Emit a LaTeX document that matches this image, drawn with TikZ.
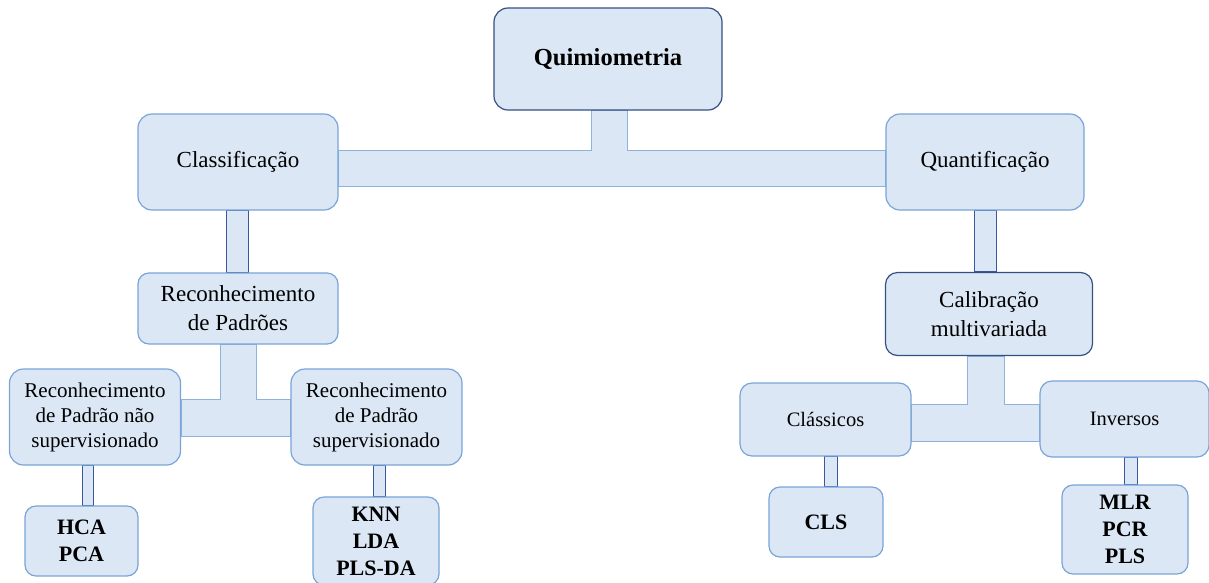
\documentclass[tikz,border=0pt]{standalone}
\usepackage{fontspec}
\setmainfont{Liberation Serif}
\usetikzlibrary{calc,backgrounds}
\definecolor{boxfill}{RGB}{220,231,245}
\definecolor{lightedge}{RGB}{122,164,214}
\definecolor{darkedge}{RGB}{52,80,130}
\definecolor{stemedge}{RGB}{58,88,160}
\tikzset{
  box/.style={draw=lightedge, fill=boxfill, line width=1.2pt, rounded corners=14pt, align=center, inner sep=2pt},
  darkbox/.style={box, draw=darkedge},
  fbig/.style={font=\fontsize{23}{29}\selectfont},
  fsmall/.style={font=\fontsize{21}{25}\selectfont},
  fone/.style={font=\fontsize{20.5}{25}\selectfont},
  fbold/.style={font=\fontsize{22}{27}\selectfont\bfseries},
  wide/.style={draw=lightedge!85, fill=boxfill, line width=1pt},
  thin/.style={draw=stemedge, fill=boxfill, line width=1pt}
}
\begin{document}
\begin{tikzpicture}[x=1pt,y=-1pt]
\useasboundingbox (0,0) rectangle (1209,582);
% nodes
\node[darkbox, minimum width=228pt, minimum height=102pt, font=\fontsize{24.5}{28}\selectfont\bfseries] (q) at (608,59) {Quimiometria};
\node[box, fbig, minimum width=200pt, minimum height=96pt] (cls) at (238,162) {Classificação};
\node[box, fbig, minimum width=198pt, minimum height=96pt] (qua) at (985,162) {Quantificação};
\node[box, fbig, minimum width=200pt, minimum height=71pt, rounded corners=11pt] (rp) at (238,308.5) {Reconhecimento\\de Padrões};
\node[darkbox, fbig, minimum width=207pt, minimum height=83pt, rounded corners=12pt] (cal) at (989,314) {Calibração\\multivariada};
\node[box, fsmall, minimum width=171pt, minimum height=96pt] (rpn) at (95,417) {Reconhecimento\\de Padrão não\\supervisionado};
\node[box, fsmall, minimum width=171pt, minimum height=96pt] (rps) at (376.5,417) {Reconhecimento\\de Padrão\\supervisionado};
\node[box, fone, minimum width=171pt, minimum height=73pt, rounded corners=12pt] (cla) at (825.5,419.5) {Clássicos};
\node[box, fone, minimum width=169pt, minimum height=76pt, rounded corners=12pt] (inv) at (1124.5,419) {Inversos};
\node[box, fbold, minimum width=113pt, minimum height=70pt, rounded corners=11pt] (hca) at (81.5,541) {HCA\\PCA};
\node[box, fbold, minimum width=126pt, minimum height=88pt, rounded corners=11pt] (knn) at (376,541) {KNN\\LDA\\PLS-DA};
\node[box, fbold, minimum width=114pt, minimum height=70pt, rounded corners=11pt] (cls2) at (826,522) {CLS};
\node[box, fbold, minimum width=126pt, minimum height=89pt, rounded corners=11pt] (mlr) at (1125,529.5) {MLR\\PCR\\PLS};
% connectors
\begin{pgfonlayer}{background}
  % top T
  \coordinate (qL) at ($(q.south)+(-17,0)$);
  \coordinate (qR) at ($(q.south)+(19,0)$);
  \coordinate (tTL) at ($(cls.east)+(0,-12)$);
  \coordinate (tBL) at ($(cls.east)+(0,24)$);
  \coordinate (tTR) at ($(qua.west)+(0,-12)$);
  \coordinate (tBR) at ($(qua.west)+(0,24)$);
  \draw[wide] (tTL) -- (qL |- tTL) -- (qL) -- (qR) -- (qR |- tTL) -- (tTR) -- (tBR) -- (tBL) -- cycle;
  % left T
  \coordinate (pL) at ($(rp.south)+(-18,0)$);
  \coordinate (pR) at ($(rp.south)+(18,0)$);
  \coordinate (lTL) at ($(rpn.east)+(0,-18)$);
  \coordinate (lBL) at ($(rpn.east)+(0,19)$);
  \coordinate (lTR) at ($(rps.west)+(0,-18)$);
  \coordinate (lBR) at ($(rps.west)+(0,19)$);
  \draw[wide] (lTL) -- (pL |- lTL) -- (pL) -- (pR) -- (pR |- lTL) -- (lTR) -- (lBR) -- (lBL) -- cycle;
  % right T
  \coordinate (cL) at ($(cal.south)+(-22,0)$);
  \coordinate (cR) at ($(cal.south)+(15,0)$);
  \coordinate (rTL) at ($(cla.east)+(0,-15.5)$);
  \coordinate (rBL) at ($(cla.east)+(0,21.5)$);
  \coordinate (rTR) at ($(inv.west)+(0,-15)$);
  \coordinate (rBR) at ($(inv.west)+(0,22)$);
  \draw[wide] (rTL) -- (cL |- rTL) -- (cL) -- (cR) -- (cR |- rTL) -- (rTR) -- (rBR) -- (rBL) -- cycle;
  % vertical stems
  \draw[thin] ($(cls.south)+(-12,0)$) rectangle ($(rp.north)+(10,0)$);
  \draw[thin] ($(qua.south)+(-11,0)$) rectangle ($(cal.north)+(7,0)$);
  \draw[thin] ($(hca.north)+(0.5,0)$) rectangle ($(rpn.south)+(-2,0)$);
  \draw[thin] ($(knn.north)+(-3,0)$) rectangle ($(rps.south)+(8.5,0)$);
  \draw[thin] ($(cls2.north)+(-2,0)$) rectangle ($(cla.south)+(11.5,0)$);
  \draw[thin] ($(mlr.north)+(-1,0)$) rectangle ($(inv.south)+(12.5,0)$);
\end{pgfonlayer}
\end{tikzpicture}
\end{document}
